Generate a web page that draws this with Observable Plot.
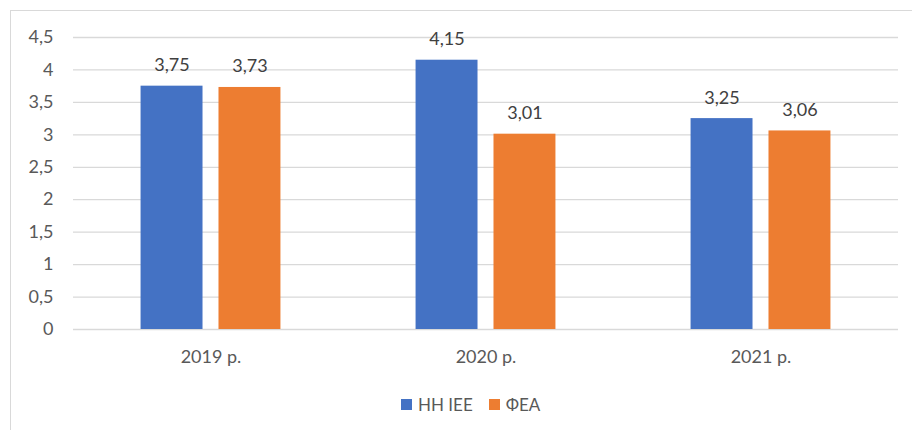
<!DOCTYPE html>
<html>
<head>
<meta charset="utf-8">
<script src="https://cdn.jsdelivr.net/npm/d3@7"></script>
<script src="https://cdn.jsdelivr.net/npm/@observablehq/plot@0.6"></script>
<style>
  html, body { margin: 0; padding: 0; background: #fff; overflow: hidden; }
  #wrap { position: relative; width: 912px; height: 430px; font-family: Lato, "Noto Sans", sans-serif; }
  #frame { position: absolute; left: 10px; top: 10px; right: -2px; bottom: -2px; border-top: 1px solid #d9d9d9; border-left: 1px solid #d9d9d9; pointer-events: none; }
  #chart { position: absolute; left: 0; top: 0; }
  #legend { position: absolute; left: 401px; top: 394px; display: flex; align-items: center; font-size: 17px; color: #595959; }
  #legend .sw { width: 11px; height: 11px; display: inline-block; margin-right: 6px; }
  #legend .item { display: flex; align-items: center; margin-right: 16px; }
</style>
</head>
<body>
<div id="wrap">
  <div id="chart"></div>
  <div id="legend"></div>
  <div id="frame"></div>
</div>
<script>
const categories = ["2019 р.", "2020 р.", "2021 р."];
const seriesNames = ["НН ІЕЕ", "ФЕА"];
const seriesColors = ["#4472C4", "#ED7D31"];
const nnIee = [3.75, 4.15, 3.25];
const fea = [3.73, 3.01, 3.06];
const yTicks = [0, 0.5, 1, 1.5, 2, 2.5, 3, 3.5, 4, 4.5];

const rows = [];
categories.forEach((c, i) => {
  rows.push({cat: c, series: seriesNames[0], value: nnIee[i]});
  rows.push({cat: c, series: seriesNames[1], value: fea[i]});
});
const fmt = d => String(d).replace(".", ",");

const chart = Plot.plot({
  width: 912,
  height: 375,
  marginLeft: 72,
  marginRight: 14,
  marginTop: 37,
  marginBottom: 46,
  style: {fontFamily: "Lato, 'Noto Sans', sans-serif", fontSize: "18px", color: "#595959", background: "transparent"},
  fx: {domain: categories, padding: 0, label: null, tickSize: 0, tickPadding: 21},
  x: {domain: seriesNames, paddingInner: 0.205, paddingOuter: 0.867, round: false, axis: null},
  y: {domain: [0, 4.5], ticks: yTicks, tickFormat: fmt, tickSize: 0, tickPadding: 20, label: null},
  color: {domain: seriesNames, range: seriesColors},
  marks: [
    Plot.ruleY(yTicks, {stroke: "#d9d9d9", strokeWidth: 1.3}),
    Plot.barY(rows, {fx: "cat", x: "series", y: "value", fill: "series"}),
    Plot.text(rows, {fx: "cat", x: "series", y: "value", text: d => fmt(d.value), dy: -15, lineAnchor: "bottom", fill: "#404040", fontSize: 18})
  ]
});
document.getElementById("chart").appendChild(chart);

const legend = document.getElementById("legend");
seriesNames.forEach((name, i) => {
  const item = document.createElement("div");
  item.className = "item";
  const sw = document.createElement("span");
  sw.className = "sw";
  sw.style.background = seriesColors[i];
  const t = document.createElement("span");
  t.textContent = name;
  item.appendChild(sw);
  item.appendChild(t);
  legend.appendChild(item);
});
</script>
</body>
</html>
